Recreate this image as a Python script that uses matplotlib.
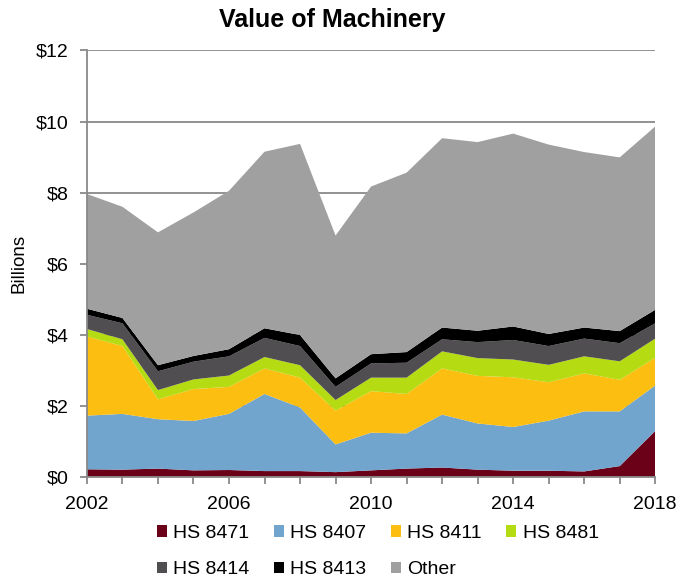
import numpy as np
import matplotlib
matplotlib.use('Agg')
import matplotlib.pyplot as plt
from matplotlib.ticker import MultipleLocator, FixedLocator, FuncFormatter

plt.rcParams['font.family'] = ['Liberation Sans', 'DejaVu Sans']

years = list(range(2002, 2019))
year_labels = [2002, 2006, 2010, 2014, 2018]

# values in billions of dollars
hs8471 = [0.21, 0.20, 0.23, 0.18, 0.19, 0.16, 0.16, 0.13, 0.18, 0.23, 0.26, 0.20, 0.17, 0.17, 0.15, 0.30, 1.29]
hs8407 = [1.51, 1.57, 1.39, 1.39, 1.58, 2.17, 1.79, 0.78, 1.06, 0.99, 1.49, 1.30, 1.23, 1.41, 1.69, 1.54, 1.28]
hs8411 = [2.23, 1.91, 0.56, 0.90, 0.76, 0.72, 0.84, 0.95, 1.17, 1.11, 1.30, 1.34, 1.40, 1.08, 1.07, 0.89, 0.78]
hs8481 = [0.21, 0.19, 0.26, 0.27, 0.32, 0.32, 0.35, 0.30, 0.38, 0.46, 0.48, 0.50, 0.50, 0.49, 0.48, 0.52, 0.54]
hs8414 = [0.40, 0.45, 0.53, 0.50, 0.54, 0.54, 0.54, 0.37, 0.40, 0.42, 0.34, 0.45, 0.55, 0.53, 0.50, 0.51, 0.43]
hs8413 = [0.17, 0.15, 0.17, 0.16, 0.20, 0.27, 0.31, 0.24, 0.26, 0.30, 0.33, 0.32, 0.38, 0.34, 0.31, 0.34, 0.38]
other = [3.23, 3.13, 3.74, 4.04, 4.46, 4.97, 5.38, 4.02, 4.72, 5.05, 5.33, 5.31, 5.43, 5.33, 4.94, 4.89, 5.16]

labels = ['HS 8471', 'HS 8407', 'HS 8411', 'HS 8481', 'HS 8414', 'HS 8413', 'Other']
colors = ['#6B0019', '#71A5CD', '#FDBE12', '#B5DB12', '#504E50', '#000000', '#A0A0A0']

fig = plt.figure(figsize=(6.79, 5.8), dpi=100)
ax = fig.add_axes([0.128, 0.178, 0.837, 0.735])

polys = ax.stackplot(years, hs8471, hs8407, hs8411, hs8481, hs8414, hs8413, other,
                     colors=colors, labels=labels, linewidth=0)

grid_color = '#898989'
ax.set_xlim(2002, 2018)
ax.set_ylim(0, 12)
ax.yaxis.set_major_locator(MultipleLocator(2))
ax.yaxis.set_major_formatter(FuncFormatter(lambda v, p: f'${v:.0f}'))
ax.xaxis.set_major_locator(FixedLocator(year_labels))
ax.xaxis.set_minor_locator(FixedLocator(years))
ax.set_axisbelow(True)
ax.yaxis.grid(True, color=grid_color, linewidth=1.3)

for side in ['top', 'right']:
    ax.spines[side].set_visible(False)
for side in ['left', 'bottom']:
    ax.spines[side].set_color(grid_color)
    ax.spines[side].set_linewidth(1.3)

ax.tick_params(axis='both', which='both', direction='out', length=5, width=1.3,
               color=grid_color, labelsize=14)
ax.tick_params(axis='x', which='major', pad=9)
ax.tick_params(axis='y', which='major', pad=8)

ax.set_ylabel('Billions', fontsize=13.5, labelpad=6)
fig.text(0.49, 0.965, 'Value of Machinery', ha='center', va='center',
         fontsize=18, fontweight='bold')

# row-major order for a 4-column legend
order = [0, 4, 1, 5, 2, 6, 3]
fig.legend([polys[i] for i in order], [labels[i] for i in order],
           loc='upper left', bbox_to_anchor=(0.231, 0.095), ncol=4,
           frameon=False, fontsize=14, handlelength=0.5, handleheight=0.5,
           handletextpad=0.35, columnspacing=1.25, labelspacing=1.0,
           borderpad=0, borderaxespad=0)

plt.savefig('out.png', dpi=100)
